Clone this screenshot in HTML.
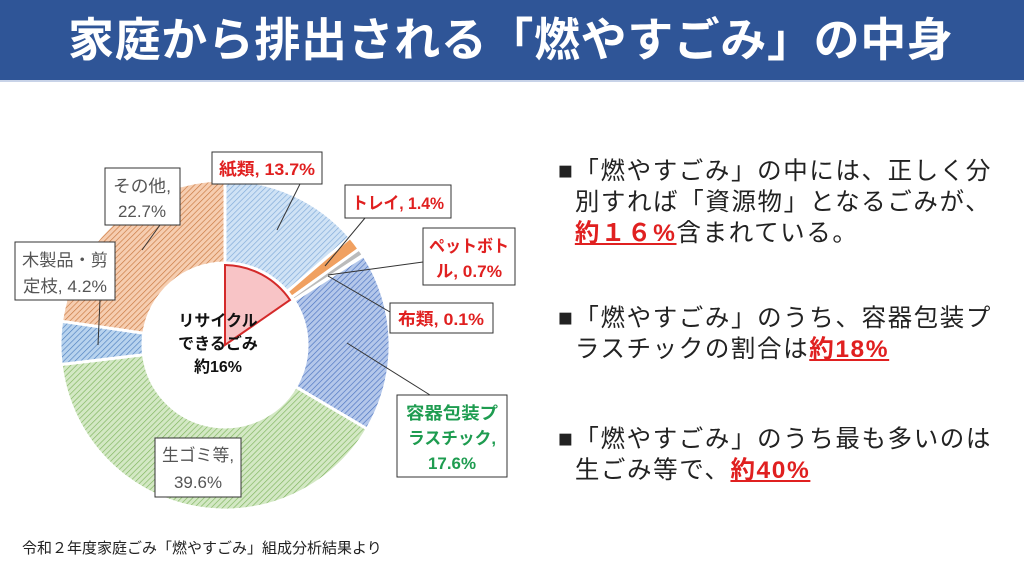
<!DOCTYPE html>
<html><head><meta charset="utf-8">
<style>
body{margin:0;width:1024px;height:576px;background:#fff;overflow:hidden;position:relative;font-family:"Liberation Sans","Noto Sans CJK JP",sans-serif}
.bar{position:absolute;left:0;top:0;width:1024px;height:80px;background:#2F5597;border-bottom:2px solid #c8d3e8}
.title{position:absolute;left:68px;top:10px;color:#fff;font-size:46px;font-weight:bold;letter-spacing:0.6px;white-space:nowrap;line-height:60px}
.txt{position:absolute;left:558px;font-size:24.5px;line-height:31px;letter-spacing:1.6px;color:#222;white-space:nowrap}
.r{color:#e02020;font-weight:bold;text-decoration:underline}
.foot{position:absolute;left:22px;top:537px;font-size:15px;color:#222}
</style></head><body>
<div class="bar"></div>
<div class="title">家庭から排出される「燃やすごみ」の中身</div>

<div class="txt" style="top:156px">■「燃やすごみ」の中には、正しく分<br>&nbsp;&nbsp;別すれば「資源物」となるごみが、<br>&nbsp;&nbsp;<span class="r">約１６%</span>含まれている。</div>
<div class="txt" style="top:303px">■「燃やすごみ」のうち、容器包装プ<br>&nbsp;&nbsp;ラスチックの割合は<span class="r">約18%</span></div>
<div class="txt" style="top:424px">■「燃やすごみ」のうち最も多いのは<br>&nbsp;&nbsp;生ごみ等で、<span class="r">約40%</span></div>

<svg style="position:absolute;left:0;top:0" width="1024" height="576">
<defs>
<pattern id="pb" width="4" height="4" patternUnits="userSpaceOnUse" patternTransform="rotate(45)"><rect width="4" height="4" fill="#cfe2f5"/><line x1="0" y1="0" x2="0" y2="4" stroke="#7fa9d8" stroke-width="1.3"/></pattern>
<pattern id="pp" width="4" height="4" patternUnits="userSpaceOnUse" patternTransform="rotate(45)"><rect width="4" height="4" fill="#b4c7ea"/><line x1="0" y1="0" x2="0" y2="4" stroke="#4a72c0" stroke-width="1.3"/></pattern>
<pattern id="pg" width="4" height="4" patternUnits="userSpaceOnUse" patternTransform="rotate(45)"><rect width="4" height="4" fill="#d3e8c4"/><line x1="0" y1="0" x2="0" y2="4" stroke="#7fb55e" stroke-width="1.3"/></pattern>
<pattern id="pw" width="4" height="4" patternUnits="userSpaceOnUse" patternTransform="rotate(45)"><rect width="4" height="4" fill="#b8d3ee"/><line x1="0" y1="0" x2="0" y2="4" stroke="#4d7fbf" stroke-width="1.3"/></pattern>
<pattern id="po" width="4" height="4" patternUnits="userSpaceOnUse" patternTransform="rotate(45)"><rect width="4" height="4" fill="#f6cdb0"/><line x1="0" y1="0" x2="0" y2="4" stroke="#c8773f" stroke-width="1.3"/></pattern>
</defs>
<g stroke="#fff" stroke-width="3">
<path d="M225,180 A165,165 0 0 1 350.1,237.4 L287.2,291.5 A82,82 0 0 0 225,263 Z" fill="url(#pb)"/>
<path d="M350.1,237.4 A165,165 0 0 1 359.1,249 L291.7,297.3 A82,82 0 0 0 287.2,291.5 Z" fill="#f0a060"/>
<path d="M359.1,249 A165,165 0 0 1 363.3,254.9 L293.7,300.2 A82,82 0 0 0 291.7,297.3 Z" fill="#bbb"/>
<path d="M363.8,255.6 A165,165 0 0 1 367.1,429 L295.6,386.7 A82,82 0 0 0 294,300.6 Z" fill="url(#pp)"/>
<path d="M367.1,429 A165,165 0 0 1 61.2,364.5 L143.6,354.7 A82,82 0 0 0 295.6,386.7 Z" fill="url(#pg)"/>
<path d="M61.2,364.5 A165,165 0 0 1 61.6,321.2 L143.8,333.2 A82,82 0 0 0 143.6,354.7 Z" fill="url(#pw)"/>
<path d="M61.6,321.2 A165,165 0 0 1 225,180 L225,263 A82,82 0 0 0 143.8,333.2 Z" fill="url(#po)"/>
</g>
<path d="M225,345 L225,265 A80,80 0 0 1 290,300 Z" fill="#f8c4c6" stroke="#d42a2a" stroke-width="2"/>
<g font-family="Liberation Sans,Noto Sans CJK JP,sans-serif" font-weight="bold" font-size="16" text-anchor="middle" fill="#111">
<text x="218" y="326">リサイクル</text><text x="218" y="349">できるごみ</text><text x="218" y="372">約16%</text>
</g>
<g stroke="#333" stroke-width="1" fill="#fff">
<line x1="300" y1="184" x2="277" y2="230"/>
<line x1="365" y1="218" x2="325" y2="266"/>
<line x1="423" y1="262" x2="328" y2="275"/>
<line x1="390" y1="312" x2="328" y2="276"/>
<line x1="430" y1="395" x2="347" y2="343"/>
<line x1="100" y1="300" x2="98" y2="345"/>
<line x1="160" y1="225" x2="142" y2="250"/>
<rect x="212" y="152" width="110" height="32"/>
<rect x="345" y="185" width="106" height="33"/>
<rect x="423" y="228" width="92" height="57"/>
<rect x="390" y="303" width="103" height="30"/>
<rect x="397" y="395" width="110" height="82"/>
<rect x="155" y="438" width="86" height="59"/>
<rect x="15" y="242" width="100" height="58"/>
<rect x="105" y="168" width="75" height="57"/>
</g>
<g font-family="Liberation Sans,Noto Sans CJK JP,sans-serif" font-size="17" text-anchor="middle" lengthAdjust="spacingAndGlyphs">
<g fill="#e02020" font-weight="bold">
<text x="267" y="175" textLength="96" lengthAdjust="spacingAndGlyphs">紙類, 13.7%</text>
<text x="398" y="209" textLength="92" lengthAdjust="spacingAndGlyphs">トレイ, 1.4%</text>
<text x="469" y="252" textLength="80" lengthAdjust="spacingAndGlyphs">ペットボト</text><text x="469" y="277" textLength="66" lengthAdjust="spacingAndGlyphs">ル, 0.7%</text>
<text x="441" y="325" textLength="86" lengthAdjust="spacingAndGlyphs">布類, 0.1%</text>
</g>
<g fill="#1e9c50" font-weight="bold">
<text x="452" y="419" textLength="92" lengthAdjust="spacingAndGlyphs">容器包装プ</text><text x="452" y="444" textLength="88" lengthAdjust="spacingAndGlyphs">ラスチック,</text><text x="452" y="469" textLength="48" lengthAdjust="spacingAndGlyphs">17.6%</text>
</g>
<g fill="#555">
<text x="198" y="461" textLength="72" lengthAdjust="spacingAndGlyphs">生ゴミ等,</text><text x="198" y="488" textLength="48" lengthAdjust="spacingAndGlyphs">39.6%</text>
<text x="65" y="266" textLength="86" lengthAdjust="spacingAndGlyphs">木製品・剪</text><text x="65" y="292" textLength="84" lengthAdjust="spacingAndGlyphs">定枝, 4.2%</text>
<text x="142" y="192" textLength="58" lengthAdjust="spacingAndGlyphs">その他,</text><text x="142" y="217" textLength="48" lengthAdjust="spacingAndGlyphs">22.7%</text>
</g>
</g>
</svg>
<div class="foot">令和２年度家庭ごみ「燃やすごみ」組成分析結果より</div>
</body></html>
